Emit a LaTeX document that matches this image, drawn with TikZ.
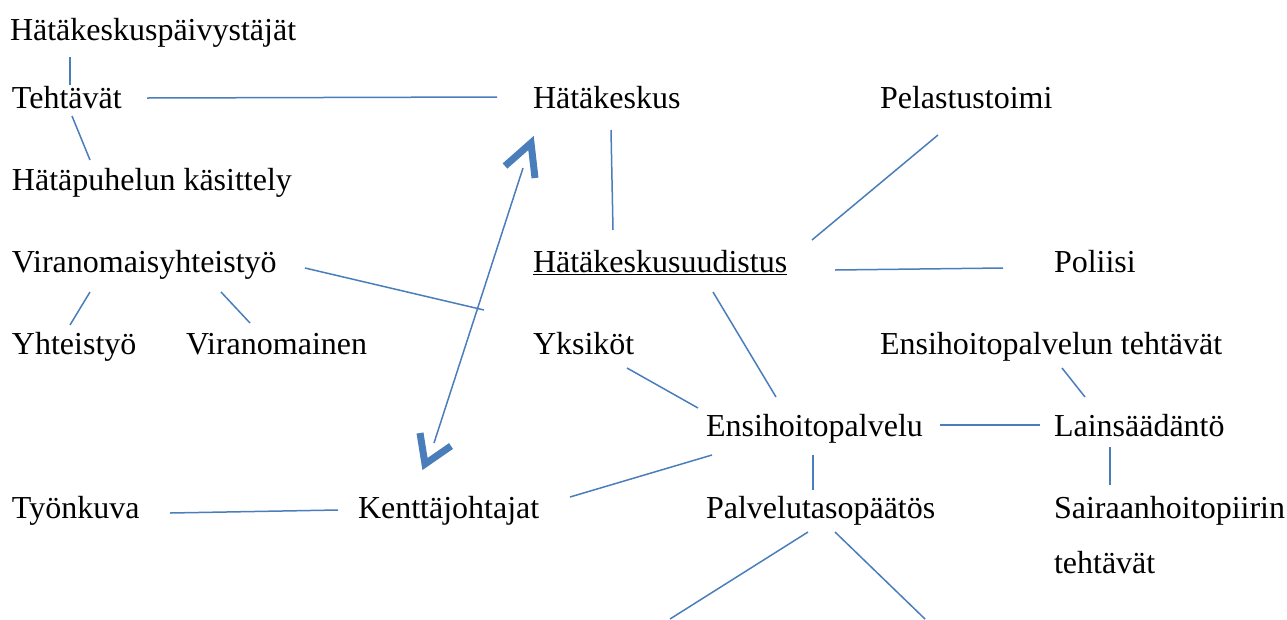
\documentclass[tikz,border=0pt]{standalone}
\usepackage{fontspec}
\setmainfont{Liberation Serif}
\begin{document}
\begin{tikzpicture}[x=1pt,y=-1pt,
  lbl/.style={anchor=base west,inner sep=0pt,outer sep=0pt,font=\fontsize{32}{38}\selectfont},
  conn/.style={draw=linkblue,line width=1.5pt},
  chev/.style={draw=linkblue,line width=7pt,miter limit=10}]
\definecolor{linkblue}{HTML}{4A7EBB}
\useasboundingbox (0,0) rectangle (1287,619);
% texts
\node[lbl] (hkp) at (10,40) {Hätäkeskuspäivystäjät};
\node[lbl] (teh) at (12,108) {Tehtävät};
\node[lbl] (hk) at (533,108) {Hätäkeskus};
\node[lbl] (pel) at (880,108) {Pelastustoimi};
\node[lbl] (hpk) at (12,190) {Hätäpuhelun käsittely};
\node[lbl] (vir) at (12,272) {Viranomaisyhteistyö};
\node[lbl] (hku) at (533,272) {\underline{Hätäkeskusuudistus}};
\node[lbl] (pol) at (1054,272) {Poliisi};
\node[lbl] (yht) at (12,354) {Yhteistyö};
\node[lbl] (vno) at (186,354) {Viranomainen};
\node[lbl] (yks) at (533,354) {Yksiköt};
\node[lbl] (eht) at (880,354) {Ensihoitopalvelun tehtävät};
\node[lbl] (ehp) at (706,436) {Ensihoitopalvelu};
\node[lbl] (lai) at (1054,436) {Lainsäädäntö};
\node[lbl] (tyo) at (12,518) {Työnkuva};
\node[lbl] (ken) at (358,518) {Kenttäjohtajat};
\node[lbl] (pal) at (706,518) {Palvelutasopäätös};
\node[lbl] (sai) at (1054,518) {Sairaanhoitopiirin};
\node[lbl] (sat) at (1054,573) {tehtävät};
% connector ends
\coordinate (c1a) at (70,57);   \coordinate (c1b) at (70,85);
\coordinate (c2a) at (72,116);  \coordinate (c2b) at (90,160);
\coordinate (c3a) at (147,98);  \coordinate (c3b) at (497,97);
\coordinate (c4a) at (611,130); \coordinate (c4b) at (613,230);
\coordinate (c5a) at (938,135); \coordinate (c5b) at (812,240);
\coordinate (c6a) at (835,270); \coordinate (c6b) at (1003,268);
\coordinate (c7a) at (305,268); \coordinate (c7b) at (484,310);
\coordinate (c8a) at (90,292);  \coordinate (c8b) at (70,325);
\coordinate (c9a) at (221,292); \coordinate (c9b) at (250,323);
\coordinate (c10a) at (713,292); \coordinate (c10b) at (776,397);
\coordinate (c11a) at (627,368); \coordinate (c11b) at (698,408);
\coordinate (c12a) at (940,425); \coordinate (c12b) at (1040,425);
\coordinate (c13a) at (1062,368); \coordinate (c13b) at (1085,397);
\coordinate (c14a) at (1110,447); \coordinate (c14b) at (1110,485);
\coordinate (c15a) at (813,455); \coordinate (c15b) at (813,490);
\coordinate (c16a) at (712,455); \coordinate (c16b) at (570,497);
\coordinate (c17a) at (170,513); \coordinate (c17b) at (338,510);
\coordinate (c18a) at (808,532); \coordinate (c18b) at (670,619);
\coordinate (c19a) at (835,532); \coordinate (c19b) at (925,619);
\coordinate (arA) at (523,168); \coordinate (arB) at (434,443);
\foreach \i in {1,...,19} {\draw[conn] (c\i a) -- (c\i b);}
\draw[conn] (arA) -- (arB);
% arrow heads
\draw[chev] (505,166) -- (531,143) -- (535,178);
\draw[chev] (420,433) -- (425,464) -- (451,446);
\end{tikzpicture}
\end{document}
